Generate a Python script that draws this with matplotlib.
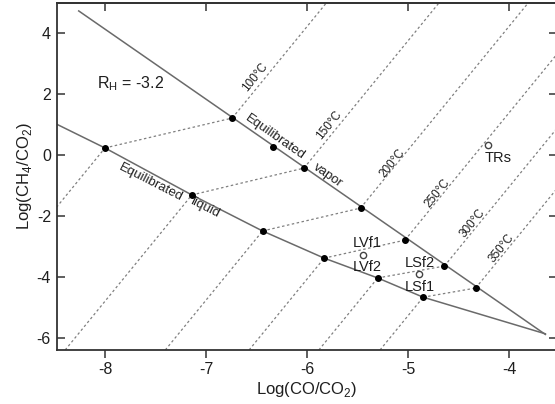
import matplotlib
matplotlib.use("Agg")
import matplotlib.pyplot as plt

plt.rcParams['font.family'] = ['Liberation Sans', 'DejaVu Sans']
plt.rcParams['axes.unicode_minus'] = False

# equilibrated vapor / liquid curves
vap_x = [-8.26, -3.64]
vap_y = [4.72, -5.88]
liq_x = [-8.485, -8.00, -7.14, -6.44, -5.83, -5.30, -4.85, -3.64]
liq_y = [1.02, 0.23, -1.31, -2.49, -3.38, -4.03, -4.66, -5.86]

# filled points on the curves
vap_pts_x = [-6.74, -6.34, -6.03, -5.47, -5.03, -4.64, -4.33]
vap_pts_y = [1.21, 0.26, -0.43, -1.74, -2.79, -3.64, -4.36]
liq_pts_x = [-8.00, -7.14, -6.44, -5.83, -5.30, -4.85]
liq_pts_y = [0.23, -1.31, -2.49, -3.38, -4.03, -4.66]

# isotherms: liquid point index, vapor point index, label position
temps = ["100°C", "150°C", "200°C", "250°C", "300°C", "350°C"]
iso_liq = [0, 1, 2, 3, 4, 5]
iso_vap = [0, 2, 3, 4, 5, 6]
iso_slope = 4.05
temp_lbl_x = [-6.51, -5.78, -5.15, -4.71, -4.36, -4.07]
temp_lbl_y = [2.56, 0.98, -0.26, -1.25, -2.23, -3.05]

# samples (open circles)
samp_names = ["LVf1", "LVf2", "LSf2", "LSf1", "TRs"]
samp_x = [-5.45, -4.89, -4.21]
samp_y = [-3.28, -3.90, 0.33]
samp_lbl_x = [-5.40, -5.40, -4.88, -4.88, -4.11]
samp_lbl_y = [-2.89, -3.67, -3.54, -4.33, -0.10]

xmin, xmax = -8.48, -3.525
ymin, ymax = -6.39, 4.98

fig = plt.figure(figsize=(5.55, 4.04), dpi=100)
ax = fig.add_axes([56.5 / 555, 54 / 404, (557 - 56.5) / 555, 347 / 404])

line_c = "#6a6a6a"
dash_c = "#808080"
dash = (0, (2, 2))
txt_c = "#1e1e1e"

ax.plot(vap_x, vap_y, color=line_c, lw=1.1)
ax.plot(liq_x, liq_y, color=line_c, lw=1.1)

for i in range(len(temps)):
    lx, ly = liq_pts_x[iso_liq[i]], liq_pts_y[iso_liq[i]]
    vx, vy = vap_pts_x[iso_vap[i]], vap_pts_y[iso_vap[i]]
    # lower part down to the bottom/left edge
    bx = lx - (ly - ymin) / iso_slope
    by = ymin
    if bx < xmin:
        bx = xmin
        by = ly - (lx - xmin) * iso_slope
    ax.plot([bx, lx], [by, ly], color=dash_c, lw=0.9, ls=dash)
    # tie line liquid -> vapor
    ax.plot([lx, vx], [ly, vy], color=dash_c, lw=0.9, ls=dash)
    # upper part up to the top edge
    tx = vx + (ymax - vy) / iso_slope
    ax.plot([vx, tx], [vy, ymax], color=dash_c, lw=0.9, ls=dash)
    ax.text(temp_lbl_x[i], temp_lbl_y[i], temps[i], fontsize=8.5, rotation=51,
            ha="center", va="center", color=txt_c)

ax.plot(vap_pts_x, vap_pts_y, "o", color="black", ms=4, zorder=5)
ax.plot(liq_pts_x, liq_pts_y, "o", color="black", ms=4, zorder=5)
ax.plot(samp_x, samp_y, "o", mfc="white", mec="#444444", mew=1, ms=4.5, zorder=5)

for name, x, y in zip(samp_names, samp_lbl_x, samp_lbl_y):
    ax.text(x, y, name, fontsize=10.5, ha="center", va="center", color=txt_c)

ax.text(-6.32, 0.59, "Equilibrated", fontsize=9.5, rotation=-35,
        ha="center", va="center", color=txt_c)
ax.text(-5.79, -0.68, "vapor", fontsize=9.5, rotation=-35,
        ha="center", va="center", color=txt_c)
ax.text(-7.55, -0.89, "Equilibrated", fontsize=9.5, rotation=-27,
        ha="center", va="center", color=txt_c)
ax.text(-7.01, -1.74, "liquid", fontsize=9.5, rotation=-27,
        ha="center", va="center", color=txt_c)
ax.text(-8.08, 2.33, "R$_\\mathregular{H}$ = -3.2", fontsize=11.5, ha="left",
        va="center", color=txt_c)

ax.set_xlim(xmin, xmax)
ax.set_ylim(ymin, ymax)
ax.set_xticks([-8, -7, -6, -5, -4])
ax.set_yticks([-6, -4, -2, 0, 2, 4])

for s in ax.spines.values():
    s.set_color("#333333")
    s.set_linewidth(1.3)

ax.tick_params(axis="x", direction="out", length=6, width=1.1, colors="#333333",
               labelsize=11.5, labelcolor=txt_c, pad=3)
ax.tick_params(axis="y", direction="in", length=6, width=1.1, colors="#333333",
               labelsize=11.5, labelcolor=txt_c, pad=4, right=True)
top = ax.secondary_xaxis("top")
top.set_xticks([-8, -7, -6, -5, -4])
top.tick_params(direction="in", length=6, width=1.1, colors="#333333", labeltop=False)
top.spines["top"].set_color("#333333")
top.spines["top"].set_linewidth(1.3)

ax.set_xlabel("Log(CO/CO$_\\mathregular{2}$)", fontsize=12, color=txt_c, labelpad=2)
ax.set_ylabel("Log(CH$_\\mathregular{4}$/CO$_\\mathregular{2}$)", fontsize=12,
              color=txt_c, labelpad=2)

fig.savefig("out.png", dpi=100)
